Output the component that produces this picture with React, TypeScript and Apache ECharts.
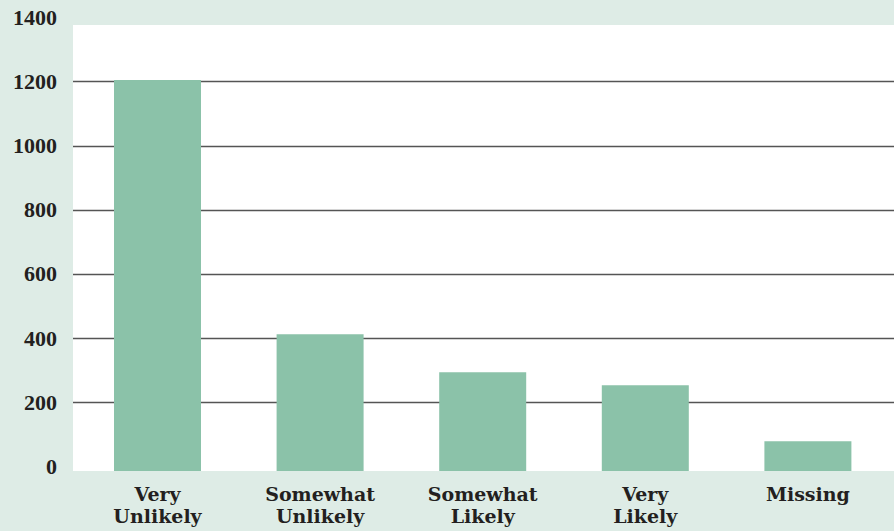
import React, { useEffect, useRef } from "react";
import * as echarts from "echarts";

const categories = ["Very\nUnlikely", "Somewhat\nUnlikely", "Somewhat\nLikely", "Very\nLikely", "Missing"];
const counts = [1205, 412, 293, 253, 78];
const tickMin = 0;
const tickMax = 1400;
const tickStep = 200;

const BG = "#deece6";
const BAR = "#8bc2a9";
const TEXT = "#231f20";

export default function App() {
  const ref = useRef<HTMLDivElement>(null);
  useEffect(() => {
    document.body.style.margin = "0";
    const chart = echarts.init(ref.current!, null, { renderer: "svg" });
    chart.setOption({
      animation: false,
      backgroundColor: BG,
      grid: [
        { left: 73, right: 0, top: 25, bottom: 60, show: true, backgroundColor: "#ffffff", borderWidth: 0, z: -1 },
        { left: 73, right: 0, top: 17.6, bottom: 64.8 },
        { left: 76.2, right: 4.8, top: 25, bottom: 60 },
      ],
      xAxis: [
        { type: "value", gridIndex: 0, show: false },
        { type: "value", gridIndex: 1, show: false },
        {
          type: "category",
          gridIndex: 2,
          data: categories,
          axisLine: { show: false },
          axisTick: { show: false },
          axisLabel: {
            color: TEXT,
            fontFamily: "DejaVu Serif",
            fontWeight: "bold",
            fontSize: 19,
            lineHeight: 22,
            margin: 12,
            interval: 0,
          },
        },
      ],
      yAxis: [
        { type: "value", gridIndex: 0, show: false },
        {
          type: "value",
          gridIndex: 1,
          min: tickMin,
          max: tickMax,
          interval: tickStep,
          axisLine: { show: false },
          axisTick: { show: false },
          splitLine: {
            show: true,
            showMinLine: false,
            showMaxLine: false,
            lineStyle: { color: "#555555", width: 1.3 },
          },
          axisLabel: {
            color: TEXT,
            fontFamily: "Liberation Serif",
            fontWeight: "bold",
            fontSize: 22,
            margin: 16,
            padding: [4, 0, 0, 0],
            formatter: (v: number) => String(v),
          },
        },
        {
          type: "value",
          gridIndex: 2,
          min: -15,
          max: 1377,
          startValue: -15,
          show: false,
          splitLine: { show: false },
        },
      ],
      series: [
        {
          type: "bar",
          xAxisIndex: 2,
          yAxisIndex: 2,
          data: counts,
          barWidth: 87,
          itemStyle: { color: BAR },
          z: 5,
        },
      ],
    });
    return () => chart.dispose();
  }, []);
  return <div ref={ref} style={{ width: 894, height: 531 }} />;
}
